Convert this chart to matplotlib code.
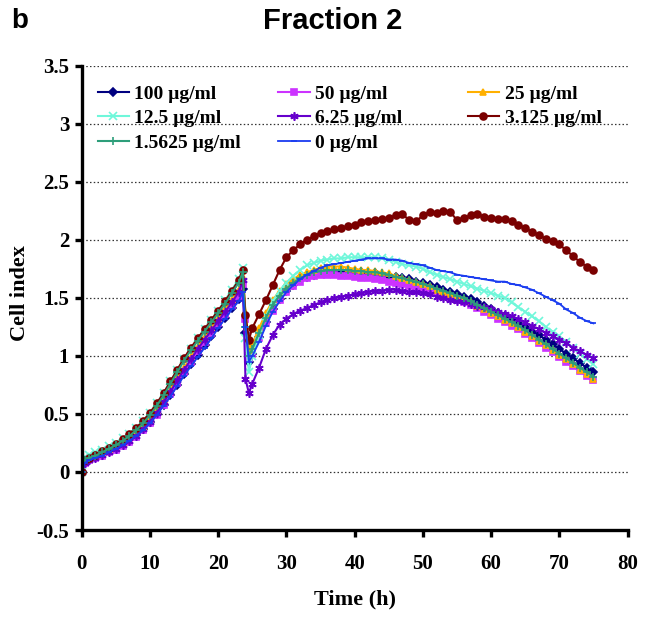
import matplotlib.pyplot as plt
import numpy as np

# time points (h)
time_h = [0, 0.5, 1, 2, 3, 4, 5, 6, 7, 8, 9, 10, 11, 12, 13, 14, 15, 16, 17, 18, 19, 20,
          21, 22, 23, 23.6, 24.0, 24.5,
          25, 26, 27, 28, 29, 30, 31, 32, 33, 34, 35, 36, 37, 38, 39, 40, 41, 42, 43, 44,
          45, 46, 47, 48, 49, 50, 51, 52, 53, 54, 55, 56, 57, 58, 59, 60, 61, 62, 63, 64,
          65, 66, 67, 68, 69, 70, 71, 72, 73, 74, 75]

# cell index per concentration (growth phase up to 23.6 h, then after treatment)
ci_100 = [0, 0.09, 0.11, 0.13, 0.15, 0.18, 0.21, 0.24, 0.28, 0.32, 0.37, 0.43, 0.50, 0.58, 0.66, 0.75,
          0.84, 0.93, 1.01, 1.09, 1.17, 1.25, 1.33, 1.41, 1.49, 1.58,
          1.20, 0.95,
          1.02, 1.16, 1.29, 1.40, 1.49, 1.56, 1.61, 1.65, 1.68, 1.70, 1.72, 1.73, 1.73, 1.73, 1.73, 1.72,
          1.72, 1.71, 1.71, 1.70,
          1.69, 1.68, 1.67, 1.66, 1.64, 1.63, 1.61, 1.59, 1.57, 1.55, 1.53, 1.51, 1.49, 1.46, 1.43,
          1.40, 1.37, 1.34, 1.31, 1.28, 1.25, 1.21, 1.18, 1.14, 1.10, 1.06, 1.02, 0.98, 0.94, 0.90, 0.86]
ci_50 = [0, 0.08, 0.10, 0.12, 0.14, 0.17, 0.19, 0.22, 0.26, 0.30, 0.36, 0.42, 0.49, 0.58, 0.67, 0.77,
         0.86, 0.95, 1.04, 1.12, 1.20, 1.28, 1.36, 1.44, 1.52, 1.62,
         1.32, 0.98,
         1.02, 1.15, 1.28, 1.39, 1.48, 1.55, 1.60, 1.64, 1.67, 1.69, 1.70, 1.70, 1.70, 1.69, 1.69, 1.68,
         1.67, 1.67, 1.66, 1.65,
         1.64, 1.63, 1.62, 1.60, 1.59, 1.58, 1.56, 1.54, 1.52, 1.50, 1.48, 1.46, 1.44, 1.41, 1.38,
         1.35, 1.32, 1.29, 1.26, 1.23, 1.19, 1.15, 1.11, 1.07, 1.03, 0.99, 0.95, 0.91, 0.87, 0.83, 0.79]
ci_25 = [0, 0.09, 0.11, 0.13, 0.16, 0.19, 0.22, 0.25, 0.29, 0.34, 0.39, 0.46, 0.53, 0.62, 0.71, 0.81,
         0.90, 0.99, 1.08, 1.16, 1.24, 1.32, 1.40, 1.48, 1.57, 1.68,
         1.38, 1.05,
         1.10, 1.24, 1.37, 1.48, 1.56, 1.62, 1.66, 1.70, 1.72, 1.74, 1.76, 1.77, 1.77, 1.77, 1.76, 1.75,
         1.74, 1.74, 1.73, 1.72,
         1.71, 1.69, 1.67, 1.65, 1.64, 1.62, 1.60, 1.57, 1.55, 1.53, 1.51, 1.49, 1.46, 1.43, 1.40,
         1.37, 1.34, 1.31, 1.28, 1.25, 1.21, 1.17, 1.13, 1.09, 1.05, 1.01, 0.97, 0.93, 0.88, 0.84, 0.80]
ci_12_5 = [0, 0.13, 0.15, 0.17, 0.19, 0.22, 0.25, 0.29, 0.33, 0.38, 0.44, 0.51, 0.59, 0.68, 0.78, 0.88,
           0.97, 1.06, 1.15, 1.23, 1.31, 1.39, 1.48, 1.57, 1.66, 1.76,
           1.15, 0.86,
           1.00, 1.18, 1.34, 1.47, 1.56, 1.63, 1.69, 1.74, 1.78, 1.80, 1.82, 1.83, 1.84, 1.84, 1.85, 1.85,
           1.85, 1.85, 1.85, 1.84,
           1.83, 1.81, 1.79, 1.78, 1.77, 1.75, 1.72, 1.70, 1.68, 1.66, 1.64, 1.62, 1.60, 1.58, 1.56,
           1.54, 1.52, 1.50, 1.46, 1.42, 1.38, 1.34, 1.30, 1.25, 1.21, 1.17, 1.12, 1.07, 1.02, 0.97, 0.93]
ci_6_25 = [0, 0.08, 0.10, 0.12, 0.15, 0.17, 0.20, 0.23, 0.27, 0.31, 0.37, 0.43, 0.51, 0.60, 0.69, 0.79,
           0.88, 0.97, 1.06, 1.14, 1.22, 1.30, 1.38, 1.46, 1.55, 1.65,
           0.80, 0.68,
           0.76, 0.90, 1.06, 1.18, 1.27, 1.32, 1.36, 1.39, 1.41, 1.44, 1.46, 1.48, 1.50, 1.51, 1.52, 1.53,
           1.54, 1.55, 1.56, 1.56,
           1.57, 1.57, 1.56, 1.55, 1.55, 1.54, 1.53, 1.51, 1.50, 1.48, 1.47, 1.46, 1.45, 1.43, 1.42,
           1.40, 1.38, 1.36, 1.34, 1.32, 1.29, 1.26, 1.23, 1.20, 1.17, 1.14, 1.11, 1.07, 1.04, 1.01, 0.98]
ci_3_125 = [0, 0.10, 0.12, 0.15, 0.18, 0.21, 0.24, 0.28, 0.33, 0.38, 0.44, 0.51, 0.59, 0.68, 0.78, 0.88,
            0.98, 1.07, 1.15, 1.23, 1.31, 1.39, 1.47, 1.56, 1.65, 1.74,
            1.35, 1.14,
            1.24, 1.36, 1.48, 1.61, 1.74, 1.85, 1.91, 1.96, 2.00, 2.03, 2.06, 2.08, 2.09, 2.10, 2.12, 2.13,
            2.15, 2.16, 2.17, 2.18,
            2.19, 2.21, 2.22, 2.17, 2.16, 2.21, 2.24, 2.23, 2.25, 2.24, 2.17, 2.19, 2.21, 2.22, 2.20,
            2.19, 2.18, 2.18, 2.16, 2.13, 2.10, 2.07, 2.04, 2.01, 1.99, 1.96, 1.91, 1.86, 1.81, 1.77, 1.74]
ci_1_5625 = [0, 0.10, 0.12, 0.14, 0.17, 0.20, 0.23, 0.27, 0.31, 0.36, 0.42, 0.49, 0.57, 0.66, 0.76, 0.86,
             0.96, 1.05, 1.13, 1.21, 1.29, 1.37, 1.45, 1.54, 1.63, 1.72,
             1.25, 1.00,
             1.06, 1.20, 1.33, 1.44, 1.52, 1.58, 1.63, 1.67, 1.70, 1.72, 1.73, 1.74, 1.74, 1.74, 1.74, 1.73,
             1.73, 1.72, 1.72, 1.71,
             1.70, 1.68, 1.67, 1.65, 1.64, 1.62, 1.60, 1.58, 1.56, 1.54, 1.52, 1.50, 1.47, 1.44, 1.41,
             1.38, 1.35, 1.32, 1.29, 1.26, 1.22, 1.18, 1.14, 1.10, 1.06, 1.02, 0.98, 0.94, 0.90, 0.86, 0.82]
ci_0 = [0, 0.08, 0.10, 0.12, 0.14, 0.17, 0.20, 0.23, 0.27, 0.31, 0.36, 0.42, 0.49, 0.57, 0.65, 0.74,
        0.83, 0.91, 0.99, 1.07, 1.15, 1.24, 1.32, 1.40, 1.47, 1.55,
        1.25, 0.95,
        1.00, 1.12, 1.26, 1.38, 1.47, 1.55, 1.61, 1.66, 1.70, 1.73, 1.76, 1.78, 1.79, 1.80, 1.81, 1.82,
        1.83, 1.84, 1.84, 1.84,
        1.83, 1.83, 1.82, 1.80, 1.79, 1.78, 1.76, 1.74, 1.73, 1.72, 1.70, 1.69, 1.68, 1.67, 1.66,
        1.65, 1.64, 1.64, 1.62, 1.61, 1.59, 1.57, 1.54, 1.51, 1.48, 1.45, 1.40, 1.37, 1.33, 1.30, 1.28]

labels = ['100 \u00b5g/ml', '50 \u00b5g/ml', '25 \u00b5g/ml', '12.5 \u00b5g/ml',
          '6.25 \u00b5g/ml', '3.125 \u00b5g/ml', '1.5625 \u00b5g/ml', '0 \u00b5g/ml']
series = [ci_100, ci_50, ci_25, ci_12_5, ci_6_25, ci_3_125, ci_1_5625, ci_0]
colors = ['#000080', '#CC33FF', '#FFB000', '#6FF7DA', '#6600CC', '#7A0000', '#2E9E7A', '#1A3CF0']
markers = ['D', 's', '^', 'x', (6, 2, 0), 'o', '+', '_']
msizes = [4, 4.5, 5, 5.5, 6, 5, 6, 4]
lwidths = [1.5, 1.5, 1.5, 1.5, 1.5, 1.5, 1.5, 1.3]

serif = 'Liberation Serif'
sans = 'Liberation Sans'

fig = plt.figure(figsize=(6.46, 6.27), dpi=100)
ax = fig.add_axes([0.1265, 0.1547, 0.845, 0.7405])

handles = []
for vals, lab, c, m, ms, lw in zip(series, labels, colors, markers, msizes, lwidths):
    h, = ax.plot(time_h, vals, color=c, marker=m, markersize=ms, linewidth=lw,
                 markeredgewidth=1.2, label=lab)
    handles.append(h)

ax.set_xlim(0, 80)
ax.set_ylim(-0.5, 3.5)
ax.set_xticks(np.arange(0, 81, 10))
ax.set_yticks(np.arange(-0.5, 3.51, 0.5))
ax.set_yticklabels(['-0.5', '0', '0.5', '1', '1.5', '2', '2.5', '3', '3.5'])

for yv in np.arange(0, 3.51, 0.5):
    ax.axhline(yv, color='#333333', linestyle=(0, (1.2, 1.8)), linewidth=0.9, zorder=0)

for s in ['top', 'right']:
    ax.spines[s].set_visible(False)
for s in ['left', 'bottom']:
    ax.spines[s].set_linewidth(2.4)

ax.tick_params(direction='out', length=5, width=2.4)
ax.tick_params(axis='y', pad=4)
ax.tick_params(axis='x', pad=12)
for lbl in ax.get_xticklabels() + ax.get_yticklabels():
    lbl.set_fontfamily(serif)
    lbl.set_fontweight('bold')
    lbl.set_fontsize(15)

ax.set_xlabel('Time (h)', fontfamily=serif, fontweight='bold', fontsize=16)
ax.set_ylabel('Cell index', fontfamily=serif, fontweight='bold', fontsize=16)
ax.xaxis.set_label_coords(0.5, -0.128)
ax.yaxis.set_label_coords(-0.095, 0.51)

# legend: three equal-width columns filled row by row, as in the original
col_x = [0.151, 0.431, 0.724]
for k, x0 in enumerate(col_x):
    idx = [i for i in range(len(labels)) if i % 3 == k]
    leg = ax.legend([handles[i] for i in idx], [labels[i] for i in idx],
                    loc='upper left', bbox_to_anchor=(x0, 0.864),
                    bbox_transform=fig.transFigure, frameon=False,
                    prop={'family': serif, 'weight': 'bold', 'size': 14},
                    handlelength=1.6, handletextpad=0.3, labelspacing=0.35,
                    borderpad=0, borderaxespad=0)
    if k < 2:
        ax.add_artist(leg)

fig.text(0.515, 0.966, 'Fraction 2', ha='center', va='center', fontfamily=sans,
         fontweight='bold', fontsize=21)
fig.text(0.018, 0.966, 'b', ha='left', va='center', fontfamily=sans,
         fontweight='bold', fontsize=20)

plt.savefig('out.png', dpi=100)
